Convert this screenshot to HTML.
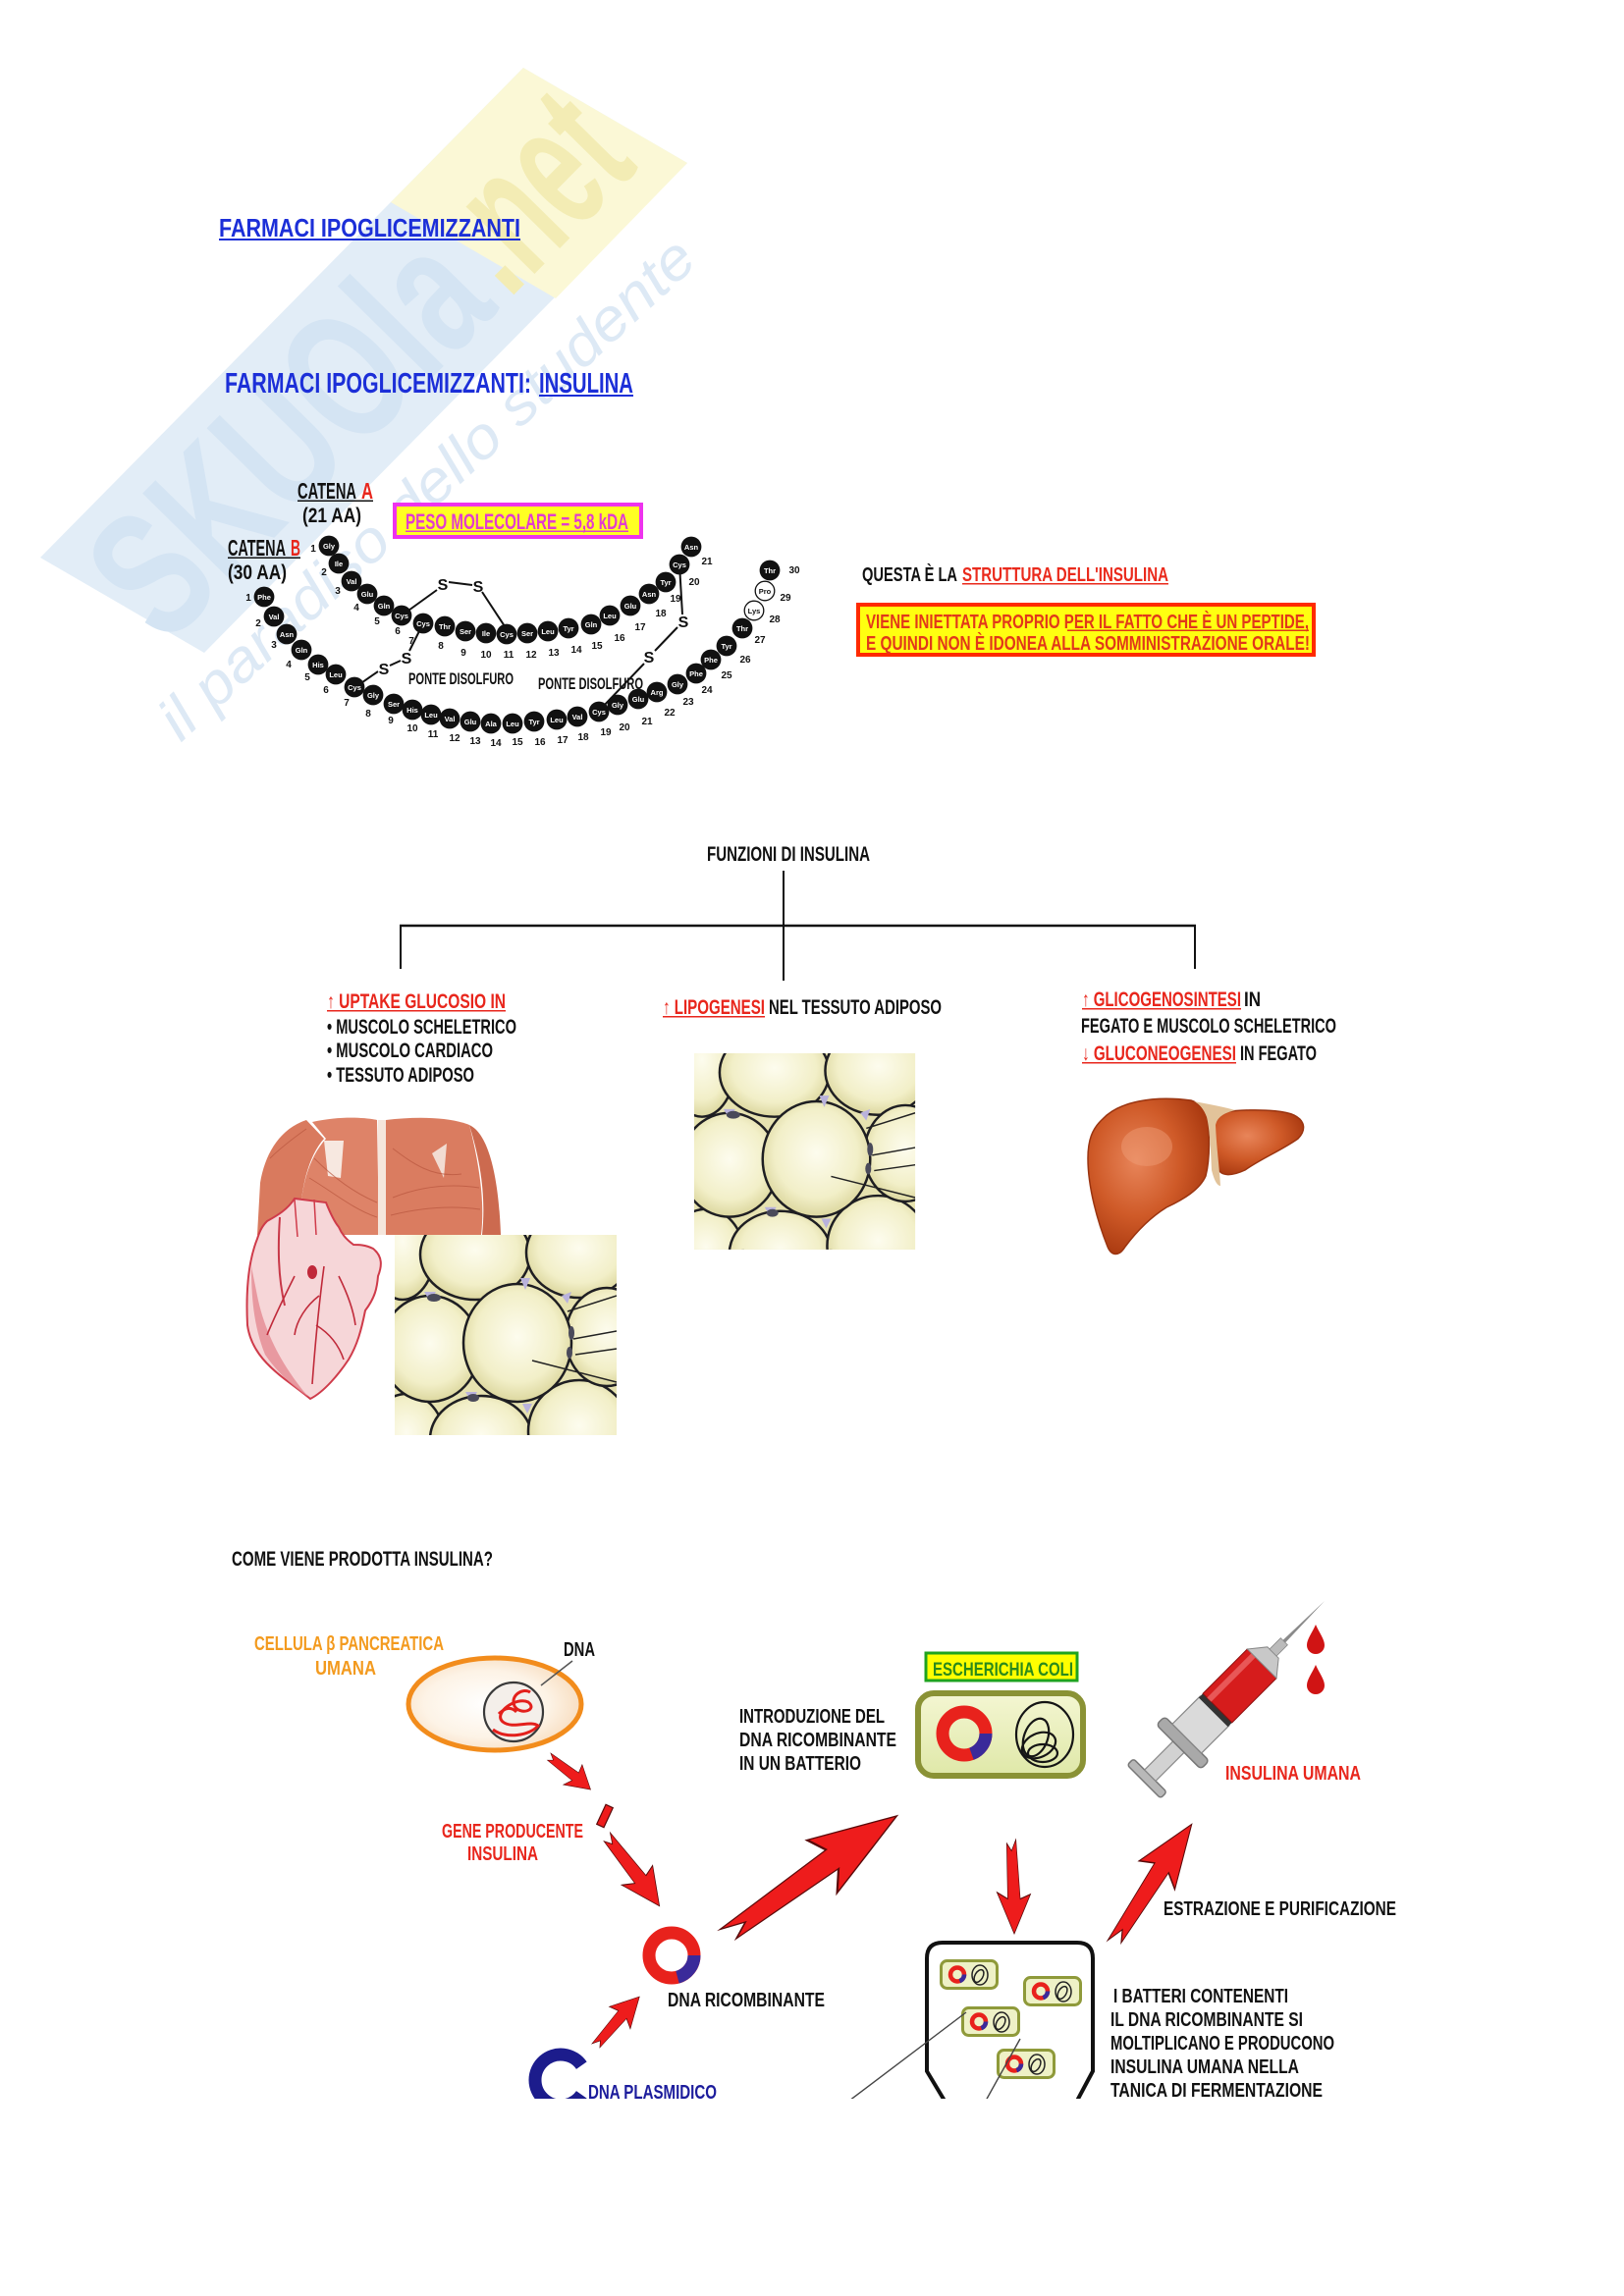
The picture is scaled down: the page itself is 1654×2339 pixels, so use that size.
<!DOCTYPE html>
<html><head><meta charset="utf-8">
<style>
html,body{margin:0;padding:0;background:#fff;}
svg{display:block;}
text{font-family:"Liberation Sans","DejaVu Sans",sans-serif;font-weight:bold;}
.b{fill:#111;}
.n{font-size:10px;fill:#111;text-anchor:middle;}
.bl{font-size:7.5px;fill:#fff;text-anchor:middle;}
.blh{font-size:7.5px;fill:#111;text-anchor:middle;}
.s{font-size:16px;fill:#111;text-anchor:middle;}
</style></head>
<body>
<svg width="1654" height="2339" viewBox="0 0 1654 2339" xmlns="http://www.w3.org/2000/svg">
<defs>
  <radialGradient id="cellg" cx="50%" cy="45%" r="55%">
    <stop offset="0" stop-color="#fdfcee"/><stop offset="0.7" stop-color="#f2efc8"/><stop offset="1" stop-color="#dcd79e"/>
  </radialGradient>
  <radialGradient id="cellfill" cx="45%" cy="50%" r="60%">
    <stop offset="0" stop-color="#ffffff"/><stop offset="0.6" stop-color="#fdf3e6"/><stop offset="1" stop-color="#f7d9b8"/>
  </radialGradient>
  <linearGradient id="bacg" x1="0" y1="0" x2="0" y2="1">
    <stop offset="0" stop-color="#f4f6d2"/><stop offset="1" stop-color="#dfe8a8"/>
  </linearGradient>
  <radialGradient id="liverg" cx="40%" cy="40%" r="65%">
    <stop offset="0" stop-color="#e8855a"/><stop offset="0.55" stop-color="#cf5a28"/><stop offset="1" stop-color="#a8380f"/>
  </radialGradient>
  <clipPath id="adclip"><rect x="0" y="0" width="226" height="204"/></clipPath>
  <clipPath id="botclip"><rect x="0" y="1600" width="1654" height="538"/></clipPath>
  <g id="adipose">
    <g clip-path="url(#adclip)">
      <rect x="0" y="0" width="226" height="204" fill="#e6e2b0"/>
      <g stroke="#1e1e22" stroke-width="2.5" fill="url(#cellg)">
        <ellipse cx="8" cy="12" rx="34" ry="54"/>
        <ellipse cx="82" cy="20" rx="56" ry="46"/>
        <ellipse cx="188" cy="18" rx="54" ry="46"/>
        <ellipse cx="12" cy="206" rx="38" ry="44"/>
        <ellipse cx="88" cy="208" rx="52" ry="44"/>
        <ellipse cx="188" cy="200" rx="52" ry="52"/>
        <ellipse cx="216" cy="104" rx="42" ry="50"/>
        <ellipse cx="36" cy="116" rx="50" ry="54"/>
        <ellipse cx="125" cy="110" rx="55" ry="60"/>
      </g>
      <g fill="#b9b2dc">
        <polygon points="128,44 138,44 133,56"/>
        <polygon points="30,58 42,58 36,68"/>
        <polygon points="72,160 84,160 78,170"/>
        <polygon points="130,172 140,172 135,182"/>
        <polygon points="170,62 180,58 176,70"/>
      </g>
      <g fill="#4a4a5a">
        <ellipse cx="40" cy="64" rx="7" ry="4"/>
        <ellipse cx="80" cy="166" rx="6" ry="4"/>
        <ellipse cx="180" cy="100" rx="3" ry="7"/>
        <ellipse cx="178" cy="120" rx="3" ry="6"/>
      </g>
      <g stroke="#222" stroke-width="1.5">
        <line x1="226" y1="62" x2="176" y2="78"/>
        <line x1="226" y1="98" x2="182" y2="106"/>
        <line x1="226" y1="116" x2="184" y2="122"/>
        <line x1="226" y1="150" x2="140" y2="128"/>
      </g>
    </g>
  </g>
  <g id="minibac">
    <rect x="1.5" y="1.5" width="57" height="28" rx="6" fill="#eef1c6" stroke="#8f9a3a" stroke-width="3"/>
    <circle cx="18" cy="15.5" r="7" fill="none" stroke="#e8221c" stroke-width="4.5"/>
    <path d="M25,15.5 A7,7 0 0 1 20.4,22.1" fill="none" stroke="#3a2a9a" stroke-width="4.5"/>
    <ellipse cx="41" cy="16" rx="8" ry="10" fill="none" stroke="#222" stroke-width="1.5"/>
    <ellipse cx="40" cy="17" rx="4" ry="7" fill="none" stroke="#222" stroke-width="1.5" transform="rotate(30 40 17)"/>
  </g>
  <path id="arrow" d="M100,0 L58,-30 L63,-11 L0,-3 L12,5 L4,14 L63,12 L56,32 Z"/>
</defs>

<rect x="0" y="0" width="1654" height="2339" fill="#ffffff"/>

<!-- watermark -->
<polygon points="41,568 533,69 700,166 208,665" fill="#e2edf7"/>
<polygon points="398,206 533,69 700,166 566,304" fill="#fbf8d6"/>
<g transform="translate(124.5,616.5) rotate(-45.4)">
  <text x="0" y="62" font-size="185" textLength="485" lengthAdjust="spacingAndGlyphs" fill="#d4e4f3">SKUOla</text>
  <text x="498" y="62" font-size="185" textLength="190" lengthAdjust="spacingAndGlyphs" fill="#f3ecb4">.net</text>
</g>
<g transform="translate(184,757) rotate(-42.8)">
  <text x="0" y="0" font-size="60" font-style="italic" textLength="720" lengthAdjust="spacingAndGlyphs" fill="#dde9f5" style="font-weight:normal">il paradiso dello studente</text>
</g>

<!-- titles -->
<text x="223" y="241" font-size="26" textLength="307" lengthAdjust="spacingAndGlyphs" fill="#1c2fd8">FARMACI IPOGLICEMIZZANTI</text>
<rect x="223" y="243" width="307" height="2" fill="#1c2fd8"/>
<text x="229" y="400" font-size="29" textLength="312" lengthAdjust="spacingAndGlyphs" fill="#1c2fd8">FARMACI IPOGLICEMIZZANTI:</text>
<text x="549" y="400" font-size="29" textLength="96" lengthAdjust="spacingAndGlyphs" fill="#1c2fd8">INSULINA</text>
<rect x="549" y="402" width="96" height="2" fill="#1c2fd8"/>

<!-- insulin structure labels -->
<text x="303" y="508" font-size="23" textLength="60" lengthAdjust="spacingAndGlyphs" fill="#111">CATENA</text>
<text x="368" y="508" font-size="23" textLength="12" lengthAdjust="spacingAndGlyphs" fill="#e8261c">A</text>
<rect x="303" y="509.5" width="77" height="1.5" fill="#111"/>
<text x="308" y="532" font-size="21" textLength="60" lengthAdjust="spacingAndGlyphs" fill="#111">(21 AA)</text>
<text x="232" y="566" font-size="23" textLength="59" lengthAdjust="spacingAndGlyphs" fill="#111">CATENA</text>
<text x="296" y="566" font-size="23" textLength="10" lengthAdjust="spacingAndGlyphs" fill="#e8261c">B</text>
<rect x="232" y="567.5" width="74" height="1.5" fill="#111"/>
<text x="232" y="590" font-size="21" textLength="60" lengthAdjust="spacingAndGlyphs" fill="#111">(30 AA)</text>

<rect x="402" y="514" width="251" height="33" fill="#ffff22" stroke="#ee33ee" stroke-width="4"/>
<text x="413" y="539" font-size="22" textLength="227" lengthAdjust="spacingAndGlyphs" fill="#e23ccf">PESO MOLECOLARE = 5,8 kDA</text>
<rect x="413" y="540.5" width="227" height="1.5" fill="#e23ccf"/>

<!-- disulfide bonds -->
<g stroke="#111" stroke-width="2">
  <line x1="409" y1="627" x2="445" y2="601"/>
  <line x1="457" y1="593" x2="481" y2="596"/>
  <line x1="491" y1="603" x2="514" y2="638"/>
  <line x1="431" y1="635" x2="417" y2="663"/>
  <line x1="408" y1="673" x2="397" y2="678"/>
  <line x1="385" y1="684" x2="362" y2="700"/>
  <line x1="692" y1="575" x2="695" y2="626"/>
  <line x1="690" y1="639" x2="667" y2="663"/>
  <line x1="656" y1="676" x2="612" y2="722"/>
</g>
<g class="s">
  <text class="s" x="451" y="601">S</text>
  <text class="s" x="487" y="603">S</text>
  <text class="s" x="414" y="676">S</text>
  <text class="s" x="391" y="687">S</text>
  <text class="s" x="696" y="639">S</text>
  <text class="s" x="661" y="675">S</text>
</g>
<text x="416" y="697" font-size="17" textLength="107" lengthAdjust="spacingAndGlyphs" fill="#111">PONTE DISOLFURO</text>
<text x="548" y="702" font-size="17" textLength="107" lengthAdjust="spacingAndGlyphs" fill="#111">PONTE DISOLFURO</text>

<!-- chain A beads -->
<g class="b">
<circle cx="335" cy="556" r="10.4"/><circle cx="345" cy="574" r="10.4"/><circle cx="358" cy="592" r="10.4"/><circle cx="374" cy="605" r="10.4"/><circle cx="391" cy="617" r="10.4"/><circle cx="409" cy="627" r="10.4"/><circle cx="431" cy="635" r="10.4"/><circle cx="453" cy="638" r="10.4"/><circle cx="474" cy="643" r="10.4"/><circle cx="495" cy="645" r="10.4"/><circle cx="516" cy="646" r="10.4"/><circle cx="537" cy="645" r="10.4"/><circle cx="558" cy="643" r="10.4"/><circle cx="579" cy="640" r="10.4"/><circle cx="602" cy="636" r="10.4"/><circle cx="621" cy="627" r="10.4"/><circle cx="642" cy="617" r="10.4"/><circle cx="661" cy="605" r="10.4"/><circle cx="678" cy="593" r="10.4"/><circle cx="692" cy="575" r="10.4"/><circle cx="704" cy="557" r="10.4"/>
</g>
<g>
<text class="bl" x="335" y="559">Gly</text><text class="bl" x="345" y="577">Ile</text><text class="bl" x="358" y="595">Val</text><text class="bl" x="374" y="608">Glu</text><text class="bl" x="391" y="620">Gln</text><text class="bl" x="409" y="630">Cys</text><text class="bl" x="431" y="638">Cys</text><text class="bl" x="453" y="641">Thr</text><text class="bl" x="474" y="646">Ser</text><text class="bl" x="495" y="648">Ile</text><text class="bl" x="516" y="649">Cys</text><text class="bl" x="537" y="648">Ser</text><text class="bl" x="558" y="646">Leu</text><text class="bl" x="579" y="643">Tyr</text><text class="bl" x="602" y="639">Gln</text><text class="bl" x="621" y="630">Leu</text><text class="bl" x="642" y="620">Glu</text><text class="bl" x="661" y="608">Asn</text><text class="bl" x="678" y="596">Tyr</text><text class="bl" x="692" y="578">Cys</text><text class="bl" x="704" y="560">Asn</text>
</g>
<!-- chain B beads -->
<g class="b">
<circle cx="269" cy="608" r="10.4"/><circle cx="279" cy="628" r="10.4"/><circle cx="292" cy="646" r="10.4"/><circle cx="307" cy="662" r="10.4"/><circle cx="324" cy="677" r="10.4"/><circle cx="342" cy="687" r="10.4"/><circle cx="361" cy="700" r="10.4"/><circle cx="380" cy="708" r="10.4"/><circle cx="401" cy="717" r="10.4"/><circle cx="420" cy="723" r="10.4"/><circle cx="439" cy="728" r="10.4"/><circle cx="458" cy="732" r="10.4"/><circle cx="479" cy="735" r="10.4"/><circle cx="500" cy="737" r="10.4"/><circle cx="522" cy="737" r="10.4"/><circle cx="544" cy="735" r="10.4"/><circle cx="567" cy="733" r="10.4"/><circle cx="588" cy="730" r="10.4"/><circle cx="610" cy="725" r="10.4"/><circle cx="629" cy="718" r="10.4"/><circle cx="650" cy="712" r="10.4"/><circle cx="669" cy="705" r="10.4"/><circle cx="690" cy="697" r="10.4"/><circle cx="709" cy="686" r="10.4"/><circle cx="724" cy="672" r="10.4"/><circle cx="740" cy="658" r="10.4"/><circle cx="756" cy="640" r="10.4"/><circle cx="784" cy="581" r="10.4"/>
</g>
<circle cx="768" cy="622" r="9.8" fill="#fff" stroke="#111" stroke-width="1.3"/>
<circle cx="779" cy="602" r="9.8" fill="#fff" stroke="#111" stroke-width="1.3"/>
<g>
<text class="bl" x="269" y="611">Phe</text><text class="bl" x="279" y="631">Val</text><text class="bl" x="292" y="649">Asn</text><text class="bl" x="307" y="665">Gln</text><text class="bl" x="324" y="680">His</text><text class="bl" x="342" y="690">Leu</text><text class="bl" x="361" y="703">Cys</text><text class="bl" x="380" y="711">Gly</text><text class="bl" x="401" y="720">Ser</text><text class="bl" x="420" y="726">His</text><text class="bl" x="439" y="731">Leu</text><text class="bl" x="458" y="735">Val</text><text class="bl" x="479" y="738">Glu</text><text class="bl" x="500" y="740">Ala</text><text class="bl" x="522" y="740">Leu</text><text class="bl" x="544" y="738">Tyr</text><text class="bl" x="567" y="736">Leu</text><text class="bl" x="588" y="733">Val</text><text class="bl" x="610" y="728">Cys</text><text class="bl" x="629" y="721">Gly</text><text class="bl" x="650" y="715">Glu</text><text class="bl" x="669" y="708">Arg</text><text class="bl" x="690" y="700">Gly</text><text class="bl" x="709" y="689">Phe</text><text class="bl" x="724" y="675">Phe</text><text class="bl" x="740" y="661">Tyr</text><text class="bl" x="756" y="643">Thr</text><text class="blh" x="768" y="625">Lys</text><text class="blh" x="779" y="605">Pro</text><text class="bl" x="784" y="584">Thr</text>
</g>
<!-- numbers chain A -->
<g>
<text class="n" x="319" y="562">1</text><text class="n" x="330" y="586">2</text><text class="n" x="344" y="605">3</text><text class="n" x="363" y="622">4</text><text class="n" x="384" y="636">5</text><text class="n" x="405" y="646">6</text><text class="n" x="419" y="656">7</text><text class="n" x="449" y="661">8</text><text class="n" x="472" y="668">9</text><text class="n" x="495" y="670">10</text><text class="n" x="518" y="670">11</text><text class="n" x="541" y="670">12</text><text class="n" x="564" y="668">13</text><text class="n" x="587" y="665">14</text><text class="n" x="608" y="661">15</text><text class="n" x="631" y="653">16</text><text class="n" x="652" y="642">17</text><text class="n" x="673" y="628">18</text><text class="n" x="688" y="613">19</text><text class="n" x="707" y="596">20</text><text class="n" x="720" y="575">21</text>
</g>
<!-- numbers chain B -->
<g>
<text class="n" x="253" y="612">1</text><text class="n" x="263" y="638">2</text><text class="n" x="279" y="660">3</text><text class="n" x="294" y="680">4</text><text class="n" x="313" y="693">5</text><text class="n" x="332" y="706">6</text><text class="n" x="353" y="719">7</text><text class="n" x="375" y="730">8</text><text class="n" x="398" y="737">9</text><text class="n" x="420" y="745">10</text><text class="n" x="441" y="751">11</text><text class="n" x="463" y="755">12</text><text class="n" x="484" y="758">13</text><text class="n" x="505" y="760">14</text><text class="n" x="527" y="759">15</text><text class="n" x="550" y="759">16</text><text class="n" x="573" y="757">17</text><text class="n" x="594" y="754">18</text><text class="n" x="617" y="749">19</text><text class="n" x="636" y="744">20</text><text class="n" x="659" y="738">21</text><text class="n" x="682" y="729">22</text><text class="n" x="701" y="718">23</text><text class="n" x="720" y="706">24</text><text class="n" x="740" y="691">25</text><text class="n" x="759" y="675">26</text><text class="n" x="774" y="655">27</text><text class="n" x="789" y="634">28</text><text class="n" x="800" y="612">29</text><text class="n" x="809" y="584">30</text>
</g>

<!-- right notes -->
<text x="878" y="592" font-size="20" textLength="97" lengthAdjust="spacingAndGlyphs" fill="#111">QUESTA È LA</text>
<text x="980" y="592" font-size="20" textLength="210" lengthAdjust="spacingAndGlyphs" fill="#ea2a1c">STRUTTURA DELL'INSULINA</text>
<rect x="980" y="594" width="210" height="1.5" fill="#ea2a1c"/>
<rect x="874" y="616" width="464" height="51" fill="#ffff10" stroke="#ff2a00" stroke-width="4"/>
<text x="882" y="640" font-size="20" textLength="451" lengthAdjust="spacingAndGlyphs" fill="#e2381a">VIENE INIETTATA PROPRIO PER IL FATTO CHE È UN PEPTIDE,</text>
<rect x="1087" y="641.5" width="246" height="1.5" fill="#e2381a"/>
<text x="882" y="662" font-size="20" textLength="452" lengthAdjust="spacingAndGlyphs" fill="#e2381a">E QUINDI NON È IDONEA ALLA SOMMINISTRAZIONE ORALE!</text>

<!-- funzioni -->
<text x="720" y="877" font-size="21" textLength="166" lengthAdjust="spacingAndGlyphs" fill="#111">FUNZIONI DI INSULINA</text>
<g stroke="#111" stroke-width="2">
  <line x1="798" y1="887" x2="798" y2="999"/>
  <line x1="407" y1="943" x2="1218" y2="943" stroke-width="2.6"/>
  <line x1="408" y1="943" x2="408" y2="987"/>
  <line x1="1217" y1="943" x2="1217" y2="987"/>
</g>
<text x="333" y="1027" font-size="21" textLength="182" lengthAdjust="spacingAndGlyphs" fill="#e8261c">↑ UPTAKE GLUCOSIO IN</text>
<rect x="333" y="1029" width="182" height="1.5" fill="#e8261c"/>
<text x="333" y="1053" font-size="21" textLength="193" lengthAdjust="spacingAndGlyphs" fill="#111">• MUSCOLO SCHELETRICO</text>
<text x="333" y="1077" font-size="21" textLength="169" lengthAdjust="spacingAndGlyphs" fill="#111">• MUSCOLO CARDIACO</text>
<text x="333" y="1102" font-size="21" textLength="150" lengthAdjust="spacingAndGlyphs" fill="#111">• TESSUTO ADIPOSO</text>

<text x="675" y="1033" font-size="21" textLength="104" lengthAdjust="spacingAndGlyphs" fill="#e8261c">↑ LIPOGENESI</text>
<rect x="675" y="1035" width="104" height="1.5" fill="#e8261c"/>
<text x="783" y="1033" font-size="21" textLength="176" lengthAdjust="spacingAndGlyphs" fill="#111">NEL TESSUTO ADIPOSO</text>

<text x="1102" y="1025" font-size="21" textLength="162" lengthAdjust="spacingAndGlyphs" fill="#e8261c">↑ GLICOGENOSINTESI</text>
<rect x="1102" y="1027" width="162" height="1.5" fill="#e8261c"/>
<text x="1267" y="1025" font-size="21" textLength="17" lengthAdjust="spacingAndGlyphs" fill="#111">IN</text>
<text x="1101" y="1052" font-size="21" textLength="260" lengthAdjust="spacingAndGlyphs" fill="#111">FEGATO E MUSCOLO SCHELETRICO</text>
<text x="1102" y="1080" font-size="21" textLength="157" lengthAdjust="spacingAndGlyphs" fill="#e8261c">↓ GLUCONEOGENESI</text>
<rect x="1102" y="1082" width="157" height="1.5" fill="#e8261c"/>
<text x="1263" y="1080" font-size="21" textLength="78" lengthAdjust="spacingAndGlyphs" fill="#111">IN FEGATO</text>

<!-- muscle image -->
<g>
  <path d="M262,1258 L265,1205 C270,1175 285,1150 312,1141 L330,1160 C312,1180 304,1220 306,1258 Z" fill="#d97a5e"/>
  <path d="M306,1258 C304,1218 312,1182 332,1160 L318,1143 C345,1137 370,1138 384,1141 L386,1258 Z" fill="#de8368"/>
  <path d="M330,1162 L350,1162 L347,1200 L334,1198 Z" fill="#f7e8e0"/>
  <path d="M393,1141 C425,1137 458,1138 478,1146 C488,1185 494,1225 490,1258 L393,1258 Z" fill="#da7c60"/>
  <path d="M478,1146 C498,1155 508,1200 510,1258 L491,1258 C495,1220 490,1185 478,1146 Z" fill="#cc6a4f"/>
  <path d="M440,1175 L455,1165 L452,1200 Z" fill="#f2dcd2"/>
  <g stroke="#b9563e" stroke-width="1" fill="none" opacity="0.7">
    <path d="M320,1180 C340,1200 360,1215 384,1225"/>
    <path d="M315,1200 C340,1215 360,1232 384,1240"/>
    <path d="M400,1220 C425,1210 455,1205 488,1210"/>
    <path d="M398,1238 C430,1230 460,1228 489,1232"/>
    <path d="M400,1170 C420,1185 440,1200 470,1196"/>
    <path d="M275,1180 C285,1170 298,1160 312,1150"/>
  </g>
  <rect x="385" y="1141" width="8" height="117" fill="#f5e6dc"/>
</g>
<!-- heart -->
<g>
  <path d="M262,1262 C254,1282 250,1310 252,1350 C255,1372 268,1388 290,1405 C302,1414 310,1420 316,1425 C330,1418 345,1400 355,1385 C364,1370 368,1355 372,1335 C382,1322 384,1312 385,1300 C389,1290 390,1280 380,1272 C372,1268 365,1268 360,1268 C352,1262 348,1257 345,1250 C340,1244 336,1235 332,1225 L300,1221 C293,1232 283,1238 272,1244 C266,1250 264,1256 262,1262 Z" fill="#f6d6d8" stroke="#cf3b4a" stroke-width="2"/>
  <path d="M256,1290 C256,1320 258,1350 270,1380 C280,1395 295,1410 314,1423 C290,1395 270,1360 262,1320 Z" fill="#e58a92" opacity="0.8"/>
  <path d="M285,1240 C283,1270 283,1300 290,1330" fill="none" stroke="#c83848" stroke-width="2"/>
  <path d="M300,1222 L303,1260 M320,1222 L322,1258" fill="none" stroke="#cf3b4a" stroke-width="1.5"/>
  <g stroke="#c02a3a" stroke-width="1.6" fill="none">
    <path d="M330,1290 C326,1320 322,1355 318,1410"/>
    <path d="M325,1320 C312,1330 302,1345 300,1360"/>
    <path d="M322,1350 C335,1358 345,1370 350,1385"/>
    <path d="M300,1300 C290,1320 280,1340 272,1360"/>
    <path d="M345,1300 C355,1320 360,1335 362,1350"/>
  </g>
  <ellipse cx="318" cy="1296" rx="5" ry="7" fill="#c0283a"/>
</g>
<!-- adipose images -->
<use href="#adipose" x="402" y="1258"/>
<use href="#adipose" transform="translate(707,1073) scale(0.996,0.98)"/>

<!-- liver -->
<g>
  <path d="M1232,1137 C1244,1130 1300,1128 1318,1136 C1330,1142 1330,1152 1322,1160 C1305,1172 1285,1180 1268,1192 C1255,1198 1244,1199 1240,1190 C1236,1175 1234,1155 1232,1137 Z" fill="url(#liverg)" stroke="#9a3410" stroke-width="1.5"/>
  <path d="M1123,1140 C1140,1122 1175,1116 1213,1121 C1222,1124 1228,1130 1230,1140 C1232,1160 1232,1182 1228,1198 C1222,1212 1205,1222 1188,1230 C1172,1240 1158,1254 1146,1270 C1140,1280 1132,1280 1128,1270 C1118,1245 1108,1210 1108,1180 C1108,1162 1112,1150 1123,1140 Z" fill="url(#liverg)" stroke="#9a3410" stroke-width="1.5"/>
  <path d="M1216,1122 C1232,1125 1248,1128 1258,1131 C1246,1134 1240,1138 1238,1146 C1239,1170 1242,1190 1243,1208 C1239,1208 1236,1200 1234,1192 C1233,1170 1232,1150 1229,1138 C1226,1130 1222,1125 1216,1122 Z" fill="#e2c39a"/>
  <ellipse cx="1168" cy="1168" rx="26" ry="20" fill="#f0a07a" opacity="0.45"/>
</g>

<!-- production section -->
<text x="236" y="1595" font-size="21" textLength="266" lengthAdjust="spacingAndGlyphs" fill="#111">COME VIENE PRODOTTA INSULINA?</text>

<text x="259" y="1681" font-size="20" textLength="193" lengthAdjust="spacingAndGlyphs" fill="#f39a1e">CELLULA β PANCREATICA</text>
<text x="321" y="1706" font-size="20" textLength="62" lengthAdjust="spacingAndGlyphs" fill="#f39a1e">UMANA</text>
<text x="574" y="1687" font-size="20" textLength="32" lengthAdjust="spacingAndGlyphs" fill="#111">DNA</text>

<ellipse cx="504" cy="1736" rx="88" ry="47" fill="url(#cellfill)" stroke="#f28c1c" stroke-width="5"/>
<circle cx="523" cy="1744" r="30" fill="#f4efea" stroke="#3a3a3a" stroke-width="2.2"/>
<path d="M502,1762 C515,1772 540,1768 548,1758 C540,1752 522,1762 512,1754 C502,1745 526,1728 538,1734 C548,1742 530,1748 524,1738 C519,1727 533,1719 540,1724 M508,1746 C514,1740 520,1738 526,1744" fill="none" stroke="#e3201c" stroke-width="3"/>
<line x1="583" y1="1692" x2="551" y2="1717" stroke="#555" stroke-width="1.5"/>

<g fill="#ee1c1c" stroke="#5a0a0a" stroke-width="1.2">
  <use href="#arrow" transform="translate(560,1787) rotate(41) scale(0.55,0.45)"/>
  <rect x="-4" y="-11" width="8" height="22" transform="translate(616,1850) rotate(25)"/>
  <use href="#arrow" transform="translate(620,1868) rotate(55) scale(0.9,0.6)"/>
  <use href="#arrow" transform="translate(735,1968) rotate(-33.5) scale(2.14,1.0)"/>
  <use href="#arrow" transform="translate(604,2083) rotate(-46) scale(0.68,0.5)"/>
  <use href="#arrow" transform="translate(1033,1874) rotate(90) scale(0.96,0.55)"/>
  <use href="#arrow" transform="translate(1130,1978) rotate(-55) scale(1.46,0.75)"/>
</g>

<text x="450" y="1872" font-size="20" textLength="144" lengthAdjust="spacingAndGlyphs" fill="#e8261c">GENE PRODUCENTE</text>
<text x="476" y="1895" font-size="20" textLength="72" lengthAdjust="spacingAndGlyphs" fill="#e8261c">INSULINA</text>

<circle cx="684" cy="1992" r="23" fill="none" stroke="#e8221c" stroke-width="13"/>
<path d="M707,1992 A23,23 0 0 1 690,2014.2" fill="none" stroke="#3a2a9a" stroke-width="13"/>
<text x="680" y="2044" font-size="20" textLength="160" lengthAdjust="spacingAndGlyphs" fill="#111">DNA RICOMBINANTE</text>

<g clip-path="url(#botclip)">
  <path d="M592.3,2104.1 A26,26 0 1 0 592.3,2133.9" fill="none" stroke="#1c1c8c" stroke-width="13"/>
  <text x="599" y="2138" font-size="20" textLength="131" lengthAdjust="spacingAndGlyphs" fill="#1c1c9c">DNA PLASMIDICO</text>
  <path d="M962,2140 L944,2110 L944,1995 Q944,1979 960,1979 L1097,1979 Q1113,1979 1113,1995 L1113,2110 L1097,2140" fill="#fff" stroke="#111" stroke-width="4"/>
  <use href="#minibac" x="957" y="1996"/>
  <use href="#minibac" x="1042" y="2013"/>
  <use href="#minibac" x="979" y="2044"/>
  <use href="#minibac" x="1015" y="2087"/>
  <line x1="865" y1="2140" x2="984" y2="2050" stroke="#444" stroke-width="1.4"/>
  <line x1="1004" y1="2140" x2="1039" y2="2077" stroke="#444" stroke-width="1.4"/>
</g>

<!-- E. coli -->
<rect x="943" y="1684" width="154" height="28" fill="#ffff00" stroke="#1fa31f" stroke-width="3"/>
<text x="950" y="1707" font-size="19" textLength="143" lengthAdjust="spacingAndGlyphs" fill="#2b8a1a">ESCHERICHIA COLI</text>
<rect x="935" y="1725" width="168" height="84" rx="16" fill="url(#bacg)" stroke="#8a9235" stroke-width="6"/>
<circle cx="982" cy="1766" r="22" fill="none" stroke="#e8221c" stroke-width="13"/>
<path d="M1004,1766 A22,22 0 0 1 989.5,1786.7" fill="none" stroke="#3a2a9a" stroke-width="13"/>
<g fill="none" stroke="#151515" stroke-width="2.2">
  <ellipse cx="1064" cy="1767" rx="29" ry="33"/>
  <ellipse cx="1058" cy="1778" rx="18" ry="12" transform="rotate(-25 1058 1778)"/>
  <ellipse cx="1055" cy="1770" rx="12" ry="20" transform="rotate(20 1055 1770)"/>
  <ellipse cx="1062" cy="1786" rx="15" ry="9"/>
</g>
<text x="753" y="1755" font-size="20" textLength="148" lengthAdjust="spacingAndGlyphs" fill="#111">INTRODUZIONE DEL</text>
<text x="753" y="1779" font-size="20" textLength="160" lengthAdjust="spacingAndGlyphs" fill="#111">DNA RICOMBINANTE</text>
<text x="753" y="1803" font-size="20" textLength="124" lengthAdjust="spacingAndGlyphs" fill="#111">IN UN BATTERIO</text>

<!-- syringe -->
<g transform="translate(1165,1815) rotate(-45)">
  <rect x="0" y="-24" width="9" height="48" rx="3" fill="#b8b8b8" stroke="#777" stroke-width="1.5"/>
  <rect x="9" y="-8" width="42" height="16" fill="#d2d2d2" stroke="#888" stroke-width="1.2"/>
  <rect x="50" y="-32" width="12" height="64" rx="4" fill="#a9a9a9" stroke="#777" stroke-width="1.5"/>
  <rect x="62" y="-21" width="40" height="42" fill="#dadada" stroke="#888" stroke-width="1.2"/>
  <rect x="100" y="-21" width="6" height="42" fill="#333"/>
  <rect x="106" y="-21" width="64" height="42" fill="#d61c1c" stroke="#8a1010" stroke-width="1"/>
  <rect x="106" y="-15" width="64" height="6" fill="#f07070" opacity="0.7"/>
  <polygon points="170,-21 186,-8 186,8 170,21" fill="#c8c8c8" stroke="#888" stroke-width="1"/>
  <rect x="186" y="-5" width="16" height="10" fill="#bbb" stroke="#888" stroke-width="0.8"/>
  <polygon points="202,-1.8 260,0 202,1.8" fill="#8a8a8a"/>
</g>
<path d="M1340,1655 C1344,1664 1349,1670 1349,1676 A9,9 0 1 1 1331,1676 C1331,1670 1336,1664 1340,1655 Z" fill="#d01414"/>
<path d="M1340,1696 C1344,1705 1349,1711 1349,1717 A9,9 0 1 1 1331,1717 C1331,1711 1336,1705 1340,1696 Z" fill="#d01414"/>
<text x="1248" y="1813" font-size="20" textLength="138" lengthAdjust="spacingAndGlyphs" fill="#e8261c">INSULINA UMANA</text>

<text x="1185" y="1951" font-size="20" textLength="237" lengthAdjust="spacingAndGlyphs" fill="#111">ESTRAZIONE E PURIFICAZIONE</text>

<text x="1134" y="2040" font-size="20" textLength="178" lengthAdjust="spacingAndGlyphs" fill="#111">I BATTERI CONTENENTI</text>
<text x="1131" y="2064" font-size="20" textLength="196" lengthAdjust="spacingAndGlyphs" fill="#111">IL DNA RICOMBINANTE SI</text>
<text x="1131" y="2088" font-size="20" textLength="228" lengthAdjust="spacingAndGlyphs" fill="#111">MOLTIPLICANO E PRODUCONO</text>
<text x="1131" y="2112" font-size="20" textLength="192" lengthAdjust="spacingAndGlyphs" fill="#111">INSULINA UMANA NELLA</text>
<text x="1131" y="2136" font-size="20" textLength="216" lengthAdjust="spacingAndGlyphs" fill="#111">TANICA DI FERMENTAZIONE</text>
</svg>
</body></html>
